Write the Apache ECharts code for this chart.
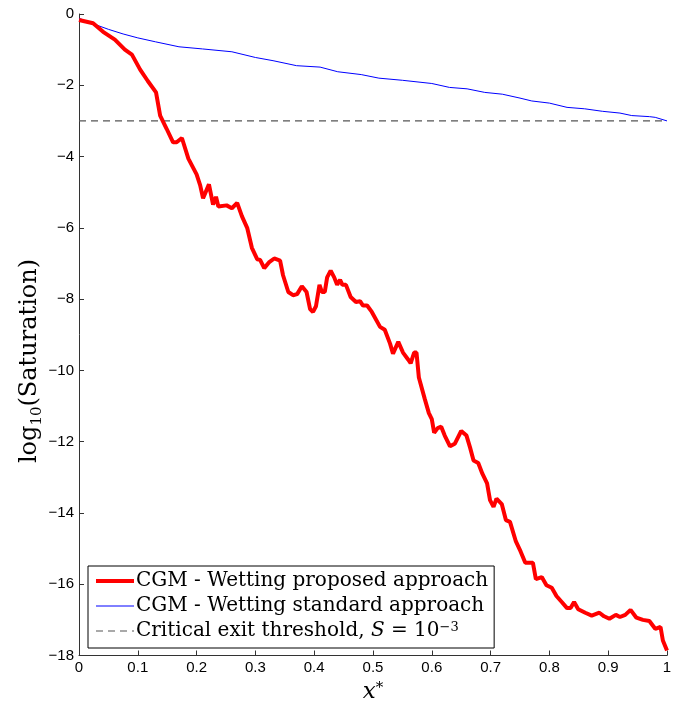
<!DOCTYPE html>
<html>
<head>
<meta charset="utf-8">
<script src="https://cdn.jsdelivr.net/npm/echarts@6/dist/echarts.min.js"></script>
<style>
    html, body { margin: 0; padding: 0; background: #fff; }
    #chart { width: 684px; height: 709px; }
</style>
</head>
<body>
<div id="chart"></div>
<script>
// proposed approach (red, thick)
const redX = [0, 0.024, 0.041, 0.061, 0.078, 0.09, 0.104, 0.117, 0.131, 0.138, 0.149, 0.16, 0.166, 0.175, 0.186,
    0.2, 0.206, 0.211, 0.221, 0.228, 0.233, 0.237, 0.251, 0.26, 0.269, 0.277, 0.286, 0.294, 0.303, 0.308,
    0.315, 0.323, 0.332, 0.342, 0.347, 0.356, 0.364, 0.371, 0.379, 0.387, 0.393, 0.398, 0.403, 0.409, 0.413,
    0.418, 0.422, 0.428, 0.434, 0.439, 0.444, 0.448, 0.454, 0.462, 0.471, 0.478, 0.483, 0.49, 0.498, 0.512,
    0.52, 0.529, 0.534, 0.543, 0.551, 0.56, 0.564, 0.57, 0.574, 0.578, 0.588, 0.595, 0.6, 0.604, 0.61,
    0.616, 0.622, 0.631, 0.639, 0.65, 0.659, 0.665, 0.671, 0.679, 0.686, 0.694, 0.699, 0.705, 0.71, 0.719,
    0.726, 0.733, 0.743, 0.751, 0.759, 0.772, 0.777, 0.787, 0.795, 0.804, 0.812, 0.821, 0.83, 0.836, 0.842,
    0.849, 0.861, 0.872, 0.885, 0.893, 0.902, 0.913, 0.92, 0.929, 0.938, 0.948, 0.959, 0.97, 0.98, 0.989,
    0.993, 1.0];
const redY = [-0.17, -0.26, -0.5, -0.72, -1.0, -1.14, -1.56, -1.88, -2.2, -2.85, -3.22, -3.6, -3.6, -3.48, -4.06,
    -4.5, -4.8, -5.17, -4.78, -5.35, -5.13, -5.4, -5.37, -5.45, -5.3, -5.67, -6.0, -6.56, -6.88, -6.9,
    -7.13, -6.97, -6.86, -6.92, -7.33, -7.8, -7.89, -7.86, -7.64, -7.8, -8.28, -8.36, -8.2, -7.6, -7.8,
    -7.8, -7.39, -7.2, -7.39, -7.6, -7.46, -7.6, -7.6, -7.94, -8.08, -8.06, -8.18, -8.18, -8.36, -8.78,
    -8.86, -9.25, -9.53, -9.2, -9.5, -9.7, -9.8, -9.5, -9.5, -10.2, -10.8, -11.2, -11.37, -11.75, -11.62,
    -11.58, -11.83, -12.13, -12.06, -11.7, -11.83, -12.16, -12.53, -12.6, -12.9, -13.17, -13.64, -13.83, -13.6, -13.75,
    -14.2, -14.25, -14.8, -15.08, -15.4, -15.4, -15.86, -15.8, -16.03, -16.1, -16.33, -16.5, -16.67, -16.67, -16.5,
    -16.7, -16.8, -16.88, -16.8, -16.9, -16.97, -16.86, -16.92, -16.86, -16.72, -16.94, -17.0, -17.03, -17.25, -17.2,
    -17.58, -17.86];

// standard approach (blue, thin)
const blueX = [0, 0.02, 0.05, 0.075, 0.1, 0.13, 0.17, 0.21, 0.26, 0.3, 0.33, 0.37, 0.41, 0.44, 0.48, 0.51,
    0.55, 0.6, 0.63, 0.66, 0.69, 0.72, 0.75, 0.77, 0.8, 0.83, 0.86, 0.89, 0.92, 0.94, 0.97, 0.98, 1.0];
const blueY = [-0.12, -0.25, -0.43, -0.56, -0.67, -0.78, -0.92, -0.98, -1.06, -1.22, -1.31, -1.45, -1.49, -1.62, -1.7, -1.8,
    -1.86, -1.95, -2.06, -2.1, -2.2, -2.25, -2.36, -2.44, -2.5, -2.62, -2.66, -2.73, -2.78, -2.85, -2.88, -2.9, -3.0];

// critical exit threshold log10(1e-3)
const thresholdX = [0, 1];
const thresholdY = [-3, -3];

const seriesNames = [
    'CGM - Wetting proposed approach',
    'CGM - Wetting standard approach',
    'Critical exit threshold, S = 10^-3'
];

function zip(xs, ys) {
    return xs.map((x, i) => [x, ys[i]]);
}

const serif = '"DejaVu Serif", "Liberation Serif", serif';
const sans = '"Liberation Sans", Arial, sans-serif';

let chart = echarts.init(document.getElementById('chart'), null, { renderer: 'canvas' });

chart.setOption({
    backgroundColor: '#fff',
    animation: false,
    grid: {
        left: 79,
        right: 17,
        top: 14,
        bottom: 47
    },
    legend: {
        orient: 'vertical',
        left: 88,
        top: 566,
        backgroundColor: '#fff',
        borderColor: '#000',
        borderWidth: 1,
        padding: [5, 6, 7, 6],
        itemGap: 5,
        itemWidth: 38,
        itemHeight: 20,
        // hide the round marker, keep only the line sample
        itemStyle: { opacity: 0 },
        data: [
            { name: seriesNames[0], lineStyle: { width: 4 } },
            { name: seriesNames[1], lineStyle: { width: 1 } },
            { name: seriesNames[2], lineStyle: { width: 1.2 } }
        ],
        formatter: function (name) {
            if (name === seriesNames[2]) {
                return 'Critical exit threshold, {i|S} = 10{sup|−3}';
            }
            return name;
        },
        textStyle: {
            fontFamily: serif,
            fontSize: 20,
            color: '#000',
            padding: [0, 0, 0, -3],
            rich: {
                i: { fontFamily: serif, fontSize: 20, fontStyle: 'italic', color: '#000' },
                sup: { fontFamily: serif, fontSize: 13, color: '#000', verticalAlign: 'top', lineHeight: 20 }
            }
        }
    },
    xAxis: {
        type: 'value',
        min: 0,
        max: 1,
        interval: 0.1,
        name: '{i|x}{sup|*}',
        nameLocation: 'middle',
        nameGap: 25,
        nameTextStyle: {
            rich: {
                i: { fontFamily: serif, fontSize: 23, fontStyle: 'italic', color: '#000' },
                sup: { fontFamily: serif, fontSize: 15, color: '#000', verticalAlign: 'top', lineHeight: 24 }
            }
        },
        axisLine: { show: true, onZero: false, lineStyle: { color: '#333', width: 1 } },
        axisTick: { show: true, inside: true, length: 5, lineStyle: { color: '#333' } },
        axisLabel: {
            fontFamily: sans,
            fontSize: 15,
            color: '#000',
            margin: 5,
            formatter: v => String(+v.toFixed(1))
        },
        splitLine: { show: false }
    },
    yAxis: {
        type: 'value',
        min: -18,
        max: 0,
        interval: 2,
        axisLine: { show: true, onZero: false, lineStyle: { color: '#333', width: 1 } },
        axisTick: { show: true, inside: true, length: 5, lineStyle: { color: '#333' } },
        axisLabel: {
            fontFamily: sans,
            fontSize: 15,
            color: '#000',
            margin: 5,
            formatter: v => String(v).replace('-', '\u2212')
        },
        splitLine: { show: false }
    },
    graphic: [
        {
            // y axis title, rotated
            type: 'text',
            x: 30,
            y: 361,
            rotation: Math.PI / 2,
            style: {
                text: '{b|log}{s|10}{b|(Saturation)}',
                align: 'center',
                verticalAlign: 'middle',
                rich: {
                    b: { fontFamily: serif, fontSize: 24, fill: '#000', lineHeight: 30, verticalAlign: 'middle' },
                    s: { fontFamily: serif, fontSize: 15, fill: '#000', lineHeight: 16, verticalAlign: 'bottom' }
                }
            }
        }
    ],
    series: [
        {
            name: seriesNames[0],
            type: 'line',
            data: zip(redX, redY),
            showSymbol: false,
            symbol: 'none',
            z: 4,
            lineStyle: { color: '#ff0000', width: 4 },
            itemStyle: { color: '#ff0000' }
        },
        {
            name: seriesNames[1],
            type: 'line',
            data: zip(blueX, blueY),
            showSymbol: false,
            symbol: 'none',
            z: 3,
            lineStyle: { color: '#0000ff', width: 1 },
            itemStyle: { color: '#0000ff' }
        },
        {
            name: seriesNames[2],
            type: 'line',
            data: zip(thresholdX, thresholdY),
            showSymbol: false,
            symbol: 'none',
            z: 2,
            lineStyle: { color: '#555', width: 1.2, type: [7, 5] },
            itemStyle: { color: '#555' }
        }
    ]
});
</script>
</body>
</html>
